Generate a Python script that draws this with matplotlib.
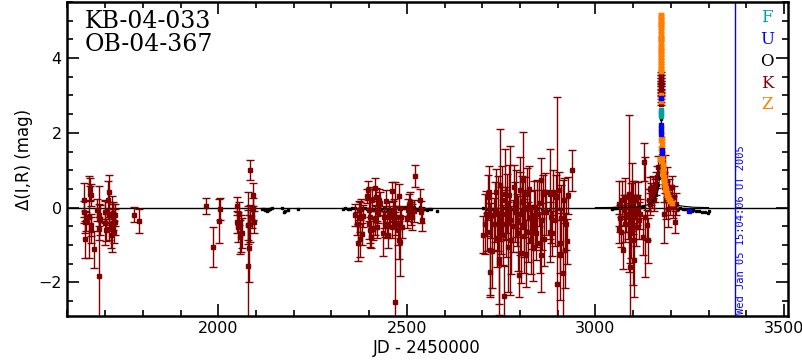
import numpy as np
import matplotlib
matplotlib.use("Agg")
import matplotlib.pyplot as plt
from matplotlib.ticker import MultipleLocator

# ---- K (dark red) photometry: JD-2450000, delta mag, error ----
k1_jd  = [1644.5, 1645, 1645.5, 1645.5, 1648, 1658.5, 1660, 1661, 1662, 1661.5, 1663.5, 1671.5, 1679,
          1682.5, 1684, 1684.5, 1686, 1700, 1700.5, 1702.5, 1707.5, 1709, 1710.5, 1711, 1715, 1717,
          1720, 1722, 1724.5, 1726, 1727.5, 1777, 1790.5]
k1_mag = [0.21, -0.12, -0.38, -0.85, -0.38, -0.25, 0.37, 0.5, 0.33, -0.47, -0.6, -1.12, -0.07,
          -0.56, -1.83, -0.2, -0.34, -0.12, -0.4, -0.6, 0.2, -0.16, 0.42, -0.56, -0.74, -0.43,
          -0.14, -0.25, -0.65, -0.38, -0.2, -0.19, -0.35]
k1_err = [0.45, 0.3, 0.3, 0.5, 0.25, 1.1, 0.2, 0.3, 0.3, 0.3, 0.35, 0.5, 0.3,
          0.3, 2.4, 0.3, 0.4, 0.3, 0.6, 0.3, 0.5, 0.3, 0.45, 0.3, 0.35, 0.75,
          0.3, 0.35, 0.3, 0.35, 0.3, 0.2, 0.32]

k2_jd  = [1967, 1986, 2003, 2005, 2050, 2051, 2053, 2056, 2058, 2060, 2063,
          2078, 2079, 2080, 2082, 2083, 2085, 2089, 2091, 2093, 2095]
k2_mag = [0.05, -1.06, -0.36, -0.04, 0.04, -0.38, -0.52, -0.16, -0.78, -0.69, -0.69,
          -1.57, -0.47, -0.47, -1.09, 1.01, -0.43, -0.25, -0.03, 0.35, -0.38]
k2_err = [0.22, 0.54, 0.6, 0.3, 0.25, 0.3, 0.4, 0.3, 0.45, 0.5, 0.4,
          2.0, 0.5, 0.4, 0.9, 0.26, 0.5, 0.3, 0.3, 0.3, 0.3]

k3_jd  = [2363.4, 2367.8, 2369.6, 2372.2, 2374.9, 2376.6, 2378.4, 2381, 2382.8, 2394.3, 2396.1,
          2398.7, 2400.5, 2401.4, 2403.2, 2404.9, 2407.6, 2410.2, 2415.5, 2416.4, 2418.2, 2419.9,
          2420.8, 2423.5, 2426.1, 2429.7, 2436.8, 2438.5, 2442.1, 2444.7, 2447.4, 2450, 2452.7,
          2456.2, 2459.7, 2461.5, 2463.3, 2465, 2467.7, 2469.5, 2472.1, 2475.6, 2478.3, 2480.1,
          2482.7, 2485.4, 2488, 2500.4, 2503, 2506.6, 2509.2, 2511.9, 2514.5, 2518.1, 2520.7,
          2535.8, 2538.4, 2541.1]
k3_mag = [-0.2, -0.43, -0.94, -0.07, -0.25, -0.83, -0.03, -0.7, -0.23, 0.31, 0.46,
          -0.43, -0.07, -0.6, -0.25, -0.78, 0.2, -0.56, 0.53, -0.34, 0.28, -0.07,
          -0.52, -0.12, 0.21, 0.11, -0.69, -0.25, -0.43, 0.17, -0.5, -0.74, -0.16,
          -0.25, 0.44, -0.52, -0.16, -0.07, -2.52, -0.43, -0.25, -0.6, -0.87, 0.32,
          -0.92, -0.25, -0.52, -0.29, -0.07, 0.06, 0.11, -0.16, -0.25, -0.09, 0.85,
          0.21, -0.12, -0.32]
k3_err = [0.3, 0.3, 0.5, 0.25, 0.4, 0.5, 0.25, 0.3, 0.3, 0.2, 0.25,
          0.4, 0.3, 0.35, 0.8, 0.3, 0.3, 0.3, 0.25, 0.4, 0.25, 0.3,
          0.3, 0.3, 0.3, 0.3, 0.6, 0.3, 0.35, 0.3, 0.3, 0.35, 0.3,
          0.3, 0.25, 0.3, 0.35, 0.3, 3.2, 0.3, 0.3, 0.4, 0.5, 0.3,
          0.9, 0.3, 0.3, 0.25, 0.3, 0.3, 0.3, 0.3, 0.35, 0.3, 0.3,
          0.3, 0.3, 0.3]

k4_jd  = [2702, 2708.2, 2710.8, 2712.6, 2714.4, 2717, 2719.7, 2721.4, 2723.2, 2725.9, 2730.3,
          2732.9, 2736.5, 2738.2, 2740.9, 2743.5, 2744.4, 2746.2, 2748.8, 2752.4, 2755, 2757.7,
          2759.5, 2762.1, 2763.9, 2765.6, 2768.3, 2770.1, 2772.7, 2776.2, 2780.7, 2783.3, 2786,
          2789.5, 2792.2, 2794.8, 2797.5, 2799.2, 2801, 2803.7, 2805.4, 2807.2, 2809.8, 2811.6,
          2814.3, 2816.9, 2819.6, 2822.2, 2824.9, 2827.5, 2830.2, 2832.8, 2834.6, 2837.2, 2839.9,
          2843.4, 2845.2, 2849.6, 2852.3, 2854.9, 2856.7, 2859.3, 2862, 2864.6, 2867.3, 2870,
          2878.8, 2880.6, 2883.2, 2885.9, 2887.6, 2893.8, 2896.5, 2898.2, 2902.7, 2905.3, 2907.1,
          2909.7, 2914.2, 2917.7, 2920.3, 2923, 2924.8, 2927.4, 2938.9]
k4_mag = [-0.72, -0.43, -0.16, -0.65, 0.28, 0.42, -1.73, -1.14, -0.2, -1.16, -0.43,
          -0.12, 0.42, -0.8, -0.16, -1.38, -1.48, 0.61, -0.34, 0.2, -0.74, -2.36,
          0.37, -0.16, -0.43, 0.11, -1.05, 0.33, -0.34, -0.87, -0.5, 0.55, -0.12,
          0.11, -0.34, -0.69, -1.8, 0.46, -0.16, -1.21, 0.15, 0.73, -0.43, -0.76,
          0.02, -1.23, 0.37, -0.65, 0.51, -0.25, -0.87, -0.52, -1.05, 0.02, -0.34,
          -0.69, -0.16, 0.11, -0.96, 0.73, -1.27, -0.34, 0.37, -0.85, 0.42, -0.12,
          -0.65, 0.37, -0.25, -0.69, 0.41, -0.34, 0.28, -2.05, 0.46, -0.94, -1.27,
          -0.29, -1.76, 0.2, -1.14, -0.43, -0.9, 0.33, 1.0]
k4_err = [0.5, 0.8, 0.6, 0.5, 0.6, 0.7, 0.6, 1.25, 0.6, 1.0, 0.7,
          0.8, 0.6, 0.8, 1.0, 1.2, 1.4, 1.5, 0.9, 0.9, 0.8, 0.8,
          1.2, 0.7, 0.9, 0.8, 1.2, 0.8, 2.0, 0.9, 0.7, 0.6, 0.8,
          0.9, 0.7, 1.0, 0.6, 0.9, 1.1, 0.8, 0.7, 1.3, 0.9, 1.0,
          0.8, 0.9, 0.7, 0.8, 0.6, 0.7, 0.9, 0.6, 0.9, 0.7, 0.8,
          0.7, 0.9, 0.6, 0.8, 0.6, 1.0, 0.8, 0.5, 0.7, 0.5, 0.6,
          0.8, 1.2, 0.7, 0.6, 0.6, 0.7, 0.6, 5.0, 0.5, 0.8, 1.2,
          0.9, 2.5, 0.6, 1.0, 0.7, 0.6, 0.5, 0.55]

k5_jd  = [3061.9, 3063.7, 3066.3, 3069, 3071.6, 3073.4, 3075.2, 3077.8, 3079.6, 3082.3, 3085.8,
          3088.4, 3091.1, 3092.9, 3095.5, 3097.3, 3099.1, 3099.9, 3101.7, 3103.5, 3105.2, 3107,
          3110.5, 3113.2, 3115, 3119.4, 3126.5, 3128.2, 3130.9, 3137.1, 3139.7, 3141.5, 3144.1,
          3145.9, 3148.6, 3150.3, 3153, 3154.7, 3157.4, 3160, 3163.6, 3166.2,
          3174.8, 3175.0, 3174.9, 3175.1, 3175.0, 3174.8, 3175.2, 3175.0, 3174.9, 3175.1,
          3181.3, 3183, 3185.7, 3188.4, 3190.1, 3192.8, 3195.4, 3199, 3202.5, 3206, 3209.6,
          3212.2, 3214.9]
k5_mag = [-0.56, 0.1, -0.29, -0.65, 0.2, -1.14, -0.07, -0.43, 0.28, -0.16, -0.25,
          0.37, -0.69, -1.58, -0.34, 0.28, 0.0, -0.87, -1.4, -0.25, 0.2, -0.52,
          -0.07, 0.28, -0.34, -0.16, -0.78, 1.22, -0.25, -0.47, -0.87, 0.2, 0.51,
          0.1, 0.37, 0.28, 0.55, 0.2, 0.46, 0.64, 0.82, 1.08,
          3.6, 3.5, 3.42, 3.35, 3.28, 3.2, 3.1, 3.05, 2.95, 2.78,
          0.55, -0.16, 0.9, 0.2, 0.68, -0.03, 0.37, 0.2, 0.55, 0.02, 0.28,
          -0.38, 0.1]
k5_err = [0.4, 0.6, 0.35, 0.4, 0.5, 0.5, 0.4, 0.5, 0.5, 0.5, 0.6,
          2.1, 0.8, 1.8, 1.0, 0.9, 0.7, 1.2, 1.0, 0.6, 0.5, 0.5,
          0.4, 0.4, 0.5, 0.4, 0.5, 0.5, 1.6, 0.4, 0.6, 0.3, 0.3,
          0.3, 0.3, 0.3, 0.3, 0.3, 0.3, 0.3, 0.3, 0.3,
          0.04, 0.04, 0.04, 0.04, 0.04, 0.04, 0.04, 0.04, 0.04, 0.04,
          0.4, 0.8, 0.5, 0.5, 0.4, 0.5, 0.4, 0.4, 0.3, 0.3, 0.3,
          0.3, 0.3]

# ---- O (black) photometry ----
o_jd  = [2115, 2120, 2125, 2128, 2131, 2134, 2138, 2142, 2168, 2175, 2176, 2186, 2212,
         2332, 2336, 2345, 2350, 2355, 2362, 2370, 2376, 2381, 2388, 2395, 2402, 2410, 2418,
         2425, 2432, 2440, 2447, 2453, 2460, 2466, 2472, 2478, 2485, 2492, 2498, 2505, 2512,
         2518, 2524, 2530, 2536, 2542, 2548, 2553, 2558, 2564, 2580,
         2702, 2712, 2725, 2740, 2760, 2775, 2790, 2805, 2815, 2830, 2845, 2858, 2870, 2880,
         2895, 2905,
         3044, 3048, 3052, 3058, 3065, 3072, 3080, 3088, 3095, 3105, 3115, 3120, 3125, 3128,
         3150, 3160, 3165, 3168, 3170, 3172, 3174, 3176,
         3205, 3212, 3218, 3225, 3232, 3238, 3245, 3250, 3255, 3260, 3268, 3275, 3282, 3290,
         3298, 3300]
o_mag = [-0.03, -0.05, -0.07, -0.08, -0.07, -0.05, -0.03, -0.02, 0.0, -0.13, -0.09, -0.06, -0.04,
         -0.03, -0.02, -0.05, -0.04, -0.02, -0.01, -0.03, -0.06, -0.04, -0.02, -0.05, -0.03, -0.06, -0.04,
         -0.02, -0.05, -0.01, -0.04, -0.03, -0.06, -0.02, 0.01, -0.03, -0.05, -0.02, 0.01, -0.04, -0.02,
         0.02, -0.03, -0.05, 0.01, -0.02, -0.04, -0.06, -0.03, -0.05, -0.08,
         -0.02, -0.05, -0.03, -0.04, -0.02, -0.05, -0.03, -0.06, -0.04, -0.08, -0.03, -0.05, -0.06, -0.04,
         -0.05, -0.03,
         -0.03, -0.02, -0.01, -0.02, 0.0, -0.02, -0.01, 0.0, -0.01, 0.0, -0.01, 0.02, 0.03, 0.02,
         0.15, 0.35, 0.6, 0.8, 1.05, 1.4, 2.37, 2.0,
         0.02, 0.0, -0.03, -0.02, -0.05, -0.05, -0.06, -0.04, -0.08, -0.06, -0.1, -0.08, -0.12, -0.12,
         -0.14, -0.1]

# ---- U (blue) ----
u_jd  = [3174.6, 3174.8, 3175.0, 3175.2, 3175.0, 3175.6, 3175.8, 3247]
u_mag = [2.93, 2.2, 2.12, 2.05, 1.97, 1.55, 1.46, -0.09]

# ---- F (teal) ----
f_jd  = [3174.9, 3175.0, 3175.1, 3175.0]
f_mag = [2.62, 2.55, 2.5, 2.44]

# ---- Z (orange) ----
z_jd  = [3174.8, 3175.0, 3175.1, 3174.9, 3175.0, 3175.2, 3174.8, 3175.0, 3175.1, 3174.9,
         3175.0, 3175.2, 3174.8, 3175.0, 3175.1, 3174.9, 3175.0, 3175.2, 3174.9, 3175.0,
         3175.1, 3175.0, 3174.9, 3175.1,
         3172.5, 3173.5, 3174.0, 3175.5, 3176.0, 3176.3, 3176.6, 3177.0, 3177.5, 3178.0,
         3178.5, 3179.0, 3180.0, 3181.0, 3182.0, 3183.0, 3184.0, 3185.5, 3187.0, 3189.0,
         3191.0, 3193.0, 3196.0, 3199.0, 3203.0]
z_mag = [5.15, 5.1, 5.02, 4.95, 4.9, 4.82, 4.75, 4.62, 4.55, 4.5,
         4.42, 4.3, 4.25, 4.18, 4.1, 4.02, 3.95, 3.88, 3.8, 3.72,
         3.66, 3.0, 2.92, 2.86,
         1.3, 1.6, 1.8, 1.85, 1.7, 1.55, 1.45, 1.35, 1.25, 1.15,
         1.05, 0.98, 0.9, 0.82, 0.75, 0.68, 0.6, 0.52, 0.46, 0.4,
         0.33, 0.28, 0.22, 0.17, 0.12]

# ---- model light curve ----
model_jd  = [3000, 3100, 3125, 3140, 3150, 3155, 3160, 3163, 3166, 3168, 3170, 3171, 3172, 3173,
             3174, 3175, 3176, 3177, 3178, 3179, 3180, 3182, 3185, 3188, 3192, 3197, 3205, 3215,
             3230, 3260, 3300]
model_mag = [0.0, 0.01, 0.04, 0.08, 0.15, 0.2, 0.28, 0.36, 0.48, 0.6, 0.8, 0.95, 1.15, 1.45,
             1.9, 2.35, 1.95, 1.5, 1.2, 1.0, 0.85, 0.66, 0.48, 0.37, 0.27, 0.19, 0.12, 0.07,
             0.04, 0.01, 0.0]

labels = ["F", "U", "O", "K", "Z"]
label_colors = ["#00a0a0", "#0000ff", "black", "#800000", "#ff8000"]
now_jd = 3369

k_jd = k1_jd + k2_jd + k3_jd + k4_jd + k5_jd
k_mag = k1_mag + k2_mag + k3_mag + k4_mag + k5_mag
k_err = k1_err + k2_err + k3_err + k4_err + k5_err

fig = plt.figure(figsize=(8.03, 3.62), dpi=100)
ax = fig.add_axes([0.083, 0.127, 0.898, 0.8675])

ax.axhline(0, color="black", lw=1.0, zorder=1)
ax.axvline(now_jd, color="#0000ff", lw=1.0, zorder=1)

# O points sit under the K error bars
ax.plot(o_jd, o_mag, "s", color="black", ms=2.0, zorder=1.5)
ax.errorbar(k_jd, k_mag, yerr=k_err, fmt="s", color="#800000", ms=3, lw=1.0,
            capsize=3, capthick=1.0, zorder=2)
ax.plot(model_jd, model_mag, "-", color="black", lw=0.8, zorder=4)
ax.errorbar(z_jd, z_mag, yerr=0.05, fmt="s", color="#ff8000", ms=2.5, lw=0.8,
            capsize=2, zorder=5)
ax.plot(u_jd, u_mag, "s", color="#0000ff", ms=2.5, zorder=6)
ax.plot(f_jd, f_mag, "s", color="#00a0a0", ms=2.5, zorder=6)

ax.set_xlim(1598, 3510)
ax.set_ylim(-2.9, 5.5)

ax.xaxis.set_major_locator(MultipleLocator(500))
ax.xaxis.set_minor_locator(MultipleLocator(100))
ax.yaxis.set_major_locator(MultipleLocator(2))
ax.yaxis.set_minor_locator(MultipleLocator(0.5))
ax.tick_params(which="both", direction="in", top=True, right=True, width=1.2, labelsize=11.5)
ax.tick_params(which="major", length=8.5)
ax.tick_params(which="minor", length=4.5)
for s in ax.spines.values():
    s.set_linewidth(1.8)

ax.set_xlabel("JD - 2450000", fontsize=12, labelpad=2)
ax.set_ylabel("Δ(I,R) (mag)", fontsize=12, labelpad=4)

ax.text(0.025, 0.975, "KB-04-033\nOB-04-367", transform=ax.transAxes, ha="left", va="top",
        fontsize=17, family="DejaVu Serif", linespacing=1.0)

# legend letters down the right side
for i, (lab, c) in enumerate(zip(labels, label_colors)):
    ax.text(0.971, 0.95 - i * 0.0695, lab, transform=ax.transAxes, color=c, ha="center",
            va="center", fontsize=12, family="DejaVu Serif")

ax.text(now_jd + 4, -2.84, "Wed Jan 05 15:04:06 UT 2005", rotation=90, color="#0000ff",
        ha="left", va="bottom", fontsize=7.5, family="DejaVu Sans Mono")

fig.savefig("out.png", dpi=100)
